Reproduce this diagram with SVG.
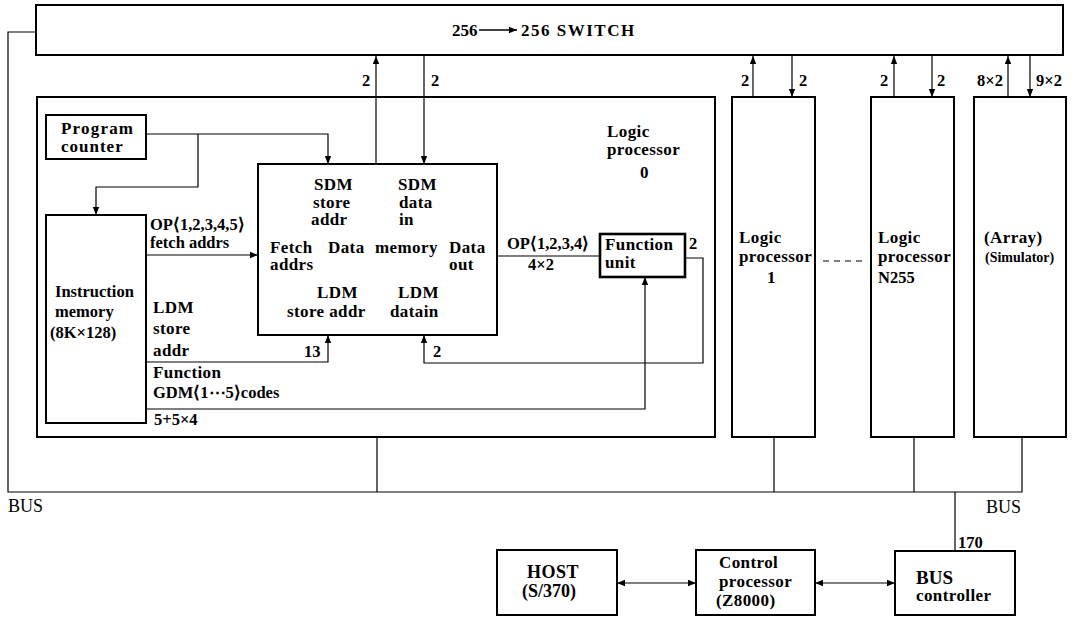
<svg xmlns="http://www.w3.org/2000/svg" width="1086" height="617" viewBox="0 0 1086 617">
<style>
  .box{fill:#fff;stroke:#000;stroke-width:2}
  .thick{fill:#fff;stroke:#000;stroke-width:2.6}
  .wire{fill:none;stroke:#000;stroke-width:1.2}
  .dash{fill:none;stroke:#000;stroke-width:1.2;stroke-dasharray:6 5}
  text{font-family:"Liberation Serif","Times New Roman",serif;font-weight:bold;font-size:16.5px;fill:#000}
  .sp{font-size:17px;letter-spacing:0.4px}
  .sm{font-size:14px}
  .reg{font-weight:normal;font-size:18px}
</style>
<defs>
  <marker id="ah" viewBox="0 0 10 10" refX="10" refY="5" markerWidth="9" markerHeight="8" markerUnits="userSpaceOnUse" orient="auto-start-reverse">
    <path d="M0,1 L10,5 L0,9 z" fill="#000"/>
  </marker>
</defs>
<rect width="1086" height="617" fill="#fff"/>

<g id="switch">
  <rect class="box" x="36" y="5" width="1027" height="50"/>
  <text x="452" y="36" style="font-size:17px">256</text>
  <line x1="479" y1="30" x2="517" y2="30" stroke="#000" stroke-width="1.5" marker-end="url(#ah)"/>
  <text x="521" y="36" style="font-size:17px;letter-spacing:1.5px">256 SWITCH</text>
</g>

<g id="logic-processor-0">
  <rect class="box" x="37" y="97" width="678" height="340"/>
  <text class="sp" x="607" y="137">Logic</text>
  <text class="sp" x="607" y="155">processor</text>
  <text class="sp" x="640" y="178">0</text>
</g>

<g id="program-counter">
  <rect class="box" x="46" y="115" width="100" height="44"/>
  <text class="sp" x="61" y="134" style="letter-spacing:1.2px">Program</text>
  <text class="sp" x="61" y="152" style="letter-spacing:1px">counter</text>
</g>

<g id="instruction-memory">
  <rect class="box" x="46" y="215" width="100" height="208"/>
  <text x="55" y="297">Instruction</text>
  <text x="55" y="317">memory</text>
  <text x="50" y="338">(8K×128)</text>
</g>

<g id="data-memory">
  <rect class="box" x="258" y="164" width="239" height="171"/>
  <text class="sp" x="314" y="190">SDM</text>
  <text class="sp" x="313" y="208">store</text>
  <text class="sp" x="311" y="225">addr</text>
  <text class="sp" x="398" y="190">SDM</text>
  <text class="sp" x="399" y="208">data</text>
  <text class="sp" x="399" y="225">in</text>
  <text class="sp" x="270" y="253">Fetch</text>
  <text class="sp" x="328" y="253">Data</text>
  <text class="sp" x="375" y="253">memory</text>
  <text class="sp" x="449" y="253">Data</text>
  <text class="sp" x="270" y="270">addrs</text>
  <text class="sp" x="449" y="270">out</text>
  <text class="sp" x="317" y="298">LDM</text>
  <text class="sp" x="398" y="298">LDM</text>
  <text class="sp" x="287" y="317">store addr</text>
  <text class="sp" x="390" y="317">datain</text>
</g>

<g id="function-unit">
  <rect class="thick" x="600" y="234" width="85" height="43"/>
  <text class="sp" x="605" y="250">Function</text>
  <text class="sp" x="605" y="268">unit</text>
</g>

<g id="logic-processor-1">
  <rect class="box" x="732" y="97" width="83" height="340"/>
  <text class="sp" x="739" y="243">Logic</text>
  <text class="sp" x="739" y="262">processor</text>
  <text class="sp" x="767" y="283">1</text>
</g>

<g id="logic-processor-n255">
  <rect class="box" x="871" y="97" width="83" height="340"/>
  <text class="sp" x="878" y="243">Logic</text>
  <text class="sp" x="878" y="262">processor</text>
  <text x="878" y="283">N255</text>
</g>

<g id="array-simulator">
  <rect class="box" x="974" y="97" width="92" height="340"/>
  <text class="sp" x="984" y="243">(Array)</text>
  <text class="sm" x="985" y="262">(Simulator)</text>
</g>

<g id="host">
  <rect class="box" x="497" y="550" width="120" height="65"/>
  <text x="527" y="578" style="font-size:18px;letter-spacing:0.5px">HOST</text>
  <text x="522" y="597" style="font-size:18px">(S/370)</text>
</g>

<g id="control-processor">
  <rect class="box" x="696" y="550" width="119" height="65"/>
  <text class="sp" x="719" y="568">Control</text>
  <text class="sp" x="719" y="587">processor</text>
  <text class="sp" x="716" y="606">(Z8000)</text>
</g>

<g id="bus-controller">
  <rect class="box" x="895" y="551" width="120" height="64"/>
  <text x="916" y="584" style="font-size:19px">BUS</text>
  <text class="sp" x="916" y="601">controller</text>
</g>

<g id="connectors">
  <path class="wire" d="M36,32 H8 V492 H1022 V437"/>
  <path class="wire" d="M377,437 V492 M774,437 V492 M914,437 V492 M955,492 V551"/>
  <path class="wire" d="M376,164 V56" marker-end="url(#ah)"/>
  <path class="wire" d="M424,55 V164" marker-end="url(#ah)"/>
  <path class="wire" d="M753,97 V56" marker-end="url(#ah)"/>
  <path class="wire" d="M792,55 V97" marker-end="url(#ah)"/>
  <path class="wire" d="M894,97 V56" marker-end="url(#ah)"/>
  <path class="wire" d="M932,55 V97" marker-end="url(#ah)"/>
  <path class="wire" d="M1008,97 V56" marker-end="url(#ah)"/>
  <path class="wire" d="M1030,55 V97" marker-end="url(#ah)"/>
  <path class="wire" d="M146,134 H328 V164" marker-end="url(#ah)"/>
  <path class="wire" d="M198,134 V187 H96 V215" marker-end="url(#ah)"/>
  <path class="wire" d="M146,255 H258" marker-end="url(#ah)"/>
  <path class="wire" d="M497,256 H600"/>
  <path class="wire" d="M685,258 H703 V363 H424 V335" marker-end="url(#ah)"/>
  <path class="wire" d="M146,362 H328 V335" marker-end="url(#ah)"/>
  <path class="wire" d="M146,409 H645 V277" marker-end="url(#ah)"/>
  <path class="dash" d="M823,261 H866"/>
  <path class="wire" d="M617,583 H696" marker-start="url(#ah)" marker-end="url(#ah)"/>
  <path class="wire" d="M815,583 H895" marker-start="url(#ah)" marker-end="url(#ah)"/>
</g>

<g id="labels">
  <text x="362" y="86">2</text>
  <text x="431" y="86">2</text>
  <text x="741" y="86">2</text>
  <text x="799" y="86">2</text>
  <text x="880" y="86">2</text>
  <text x="937" y="86">2</text>
  <text x="1003" y="86" text-anchor="end">8×2</text>
  <text x="1036" y="86">9×2</text>
  <text x="150" y="230">OP⟨1,2,3,4,5⟩</text>
  <text x="150" y="248">fetch addrs</text>
  <text class="sp" x="153" y="313">LDM</text>
  <text class="sp" x="153" y="334">store</text>
  <text class="sp" x="153" y="356">addr</text>
  <text x="304" y="357">13</text>
  <text x="433" y="357">2</text>
  <text x="507" y="249">OP⟨1,2,3,4⟩</text>
  <text x="528" y="270">4×2</text>
  <text x="689" y="249">2</text>
  <text class="sp" x="153" y="378">Function</text>
  <text x="153" y="398">GDM⟨1⋯5⟩codes</text>
  <text x="154" y="425">5+5×4</text>
  <text class="reg" x="8" y="512">BUS</text>
  <text class="reg" x="986" y="513">BUS</text>
  <text x="958" y="548">170</text>
</g>
</svg>
